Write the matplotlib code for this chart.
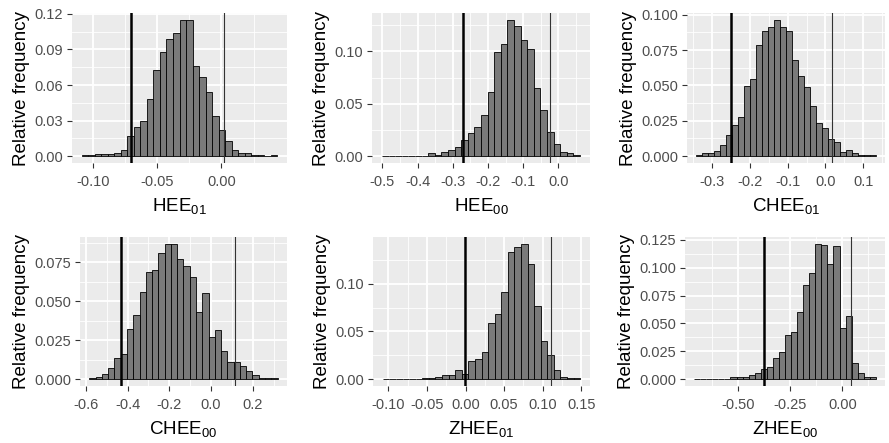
import numpy as np
import matplotlib
matplotlib.use('Agg')
import matplotlib.pyplot as plt
from matplotlib.ticker import FixedLocator, MultipleLocator, FormatStrFormatter

plt.rcParams['font.family'] = 'Liberation Sans'
plt.rcParams['mathtext.fontset'] = 'custom'
plt.rcParams['mathtext.rm'] = 'Liberation Sans'

# relative frequency of each of the 30 bins, bin range and the two reference lines
hee01_freq = [0.001, 0.001, 0.002, 0.002, 0.002, 0.003, 0.005, 0.017, 0.025, 0.030,
              0.048, 0.073, 0.088, 0.099, 0.104, 0.115, 0.115, 0.076, 0.067, 0.054,
              0.034, 0.022, 0.013, 0.005, 0.003, 0.003, 0.001, 0.001, 0.0003, 0.001]
hee01_range = (-0.1087, 0.0434)
hee01_lines = (-0.0702, 0.0023)
hee01_xticks = [-0.10, -0.05, 0.00]

hee00_freq = [0, 0, 0, 0, 0, 0, 0, 0.003, 0.0016, 0.004,
              0.006, 0.009, 0.0155, 0.022, 0.028, 0.039, 0.061, 0.0997, 0.107, 0.130,
              0.124, 0.111, 0.102, 0.065, 0.044, 0.0235, 0.0116, 0.004, 0.003, 0.0013]
hee00_range = (-0.501, 0.0613)
hee00_lines = (-0.272, -0.024)
hee00_xticks = [-0.5, -0.4, -0.3, -0.2, -0.1, 0.0]

chee01_freq = [0.001, 0.002, 0.0024, 0.0036, 0.0076, 0.0153, 0.0217, 0.0277, 0.0496, 0.0544,
               0.0783, 0.0886, 0.091, 0.0964, 0.091, 0.0886, 0.0683, 0.0568, 0.0492, 0.0353,
               0.0234, 0.0198, 0.0122, 0.0098, 0.0033, 0.0045, 0.0026, 0.001, 0.001, 0.001]
chee01_range = (-0.343, 0.134)
chee01_lines = (-0.250, 0.0168)
chee01_xticks = [-0.3, -0.2, -0.1, 0.0, 0.1]

chee00_freq = [0.0009, 0.0017, 0.0035, 0.0069, 0.0138, 0.0164, 0.032, 0.0415, 0.0562, 0.0691,
               0.070, 0.0812, 0.087, 0.087, 0.0769, 0.073, 0.0657, 0.0432, 0.0553, 0.0272,
               0.0313, 0.0182, 0.0112, 0.0112, 0.0082, 0.0052, 0.003, 0.0009, 0.0009, 0.0009]
chee00_range = (-0.5825, 0.319)
chee00_lines = (-0.433, 0.1127)
chee00_xticks = [-0.6, -0.4, -0.2, 0.0, 0.2]

zhee01_freq = [0, 0, 0, 0, 0, 0, 0.0014, 0.0014, 0.002, 0.0042,
               0.0042, 0.0099, 0.005, 0.0187, 0.0211, 0.0282, 0.0592, 0.068, 0.0915, 0.1335,
               0.138, 0.1419, 0.1208, 0.0768, 0.0401, 0.025, 0.0099, 0.0028, 0.001, 0.001]
zhee01_range = (-0.1073, 0.1487)
zhee01_lines = (-0.0013, 0.1112)
zhee01_xticks = [-0.10, -0.05, 0.00, 0.05, 0.10, 0.15]

zhee00_freq = [0.0003, 0.0003, 0.0003, 0.0003, 0.0003, 0.0003, 0.0024, 0.0024, 0.0024, 0.0036,
               0.006, 0.0096, 0.0108, 0.0193, 0.024, 0.0398, 0.0422, 0.0602, 0.0846, 0.0949,
               0.1214, 0.1202, 0.1033, 0.119, 0.0458, 0.0566, 0.0145, 0.006, 0.0024, 0.0024]
zhee00_range = (-0.710, 0.161)
zhee00_lines = (-0.374, 0.041)
zhee00_xticks = [-0.50, -0.25, 0.00]

labels = ['HEE$_{\\mathregular{01}}$', 'HEE$_{\\mathregular{00}}$', 'CHEE$_{\\mathregular{01}}$',
          'CHEE$_{\\mathregular{00}}$', 'ZHEE$_{\\mathregular{01}}$', 'ZHEE$_{\\mathregular{00}}$']

panels = [
    # freq, range, lines, x ticks, x fmt, y step, y fmt, box (left, top, right, bottom px)
    (hee01_freq, hee01_range, hee01_lines, hee01_xticks, '%.2f', 0.03, '%.2f', (72, 13, 287, 163)),
    (hee00_freq, hee00_range, hee00_lines, hee00_xticks, '%.1f', 0.05, '%.2f', (372, 13, 590, 163)),
    (chee01_freq, chee01_range, chee01_lines, chee01_xticks, '%.1f', 0.025, '%.3f', (687, 13, 885, 163)),
    (chee00_freq, chee00_range, chee00_lines, chee00_xticks, '%.1f', 0.025, '%.3f', (80, 237, 287, 386)),
    (zhee01_freq, zhee01_range, zhee01_lines, zhee01_xticks, '%.2f', 0.05, '%.2f', (373, 237, 590, 386)),
    (zhee00_freq, zhee00_range, zhee00_lines, zhee00_xticks, '%.2f', 0.025, '%.3f', (685, 237, 885, 386)),
]

W, H = 889, 443
fig = plt.figure(figsize=(W / 100, H / 100), dpi=100)

for (freq, rng, lines, xt, xf, ys, yf, box), lab in zip(panels, labels):
    l, t, r, b = box
    ax = fig.add_axes([l / W, 1 - b / H, (r - l) / W, (b - t) / H])
    ax.set_facecolor('#EBEBEB')
    for s in ax.spines.values():
        s.set_visible(False)

    edges = np.linspace(rng[0], rng[1], len(freq) + 1)
    ax.bar(edges[:-1], freq, width=np.diff(edges), align='edge',
           color='#7A7A7A', edgecolor='black', linewidth=0.6, zorder=3)
    ax.axvline(lines[0], color='black', lw=1.8, zorder=4)
    ax.axvline(lines[1], color='#333333', lw=0.8, zorder=4)

    span = rng[1] - rng[0]
    ax.set_xlim(rng[0] - 0.05 * span, rng[1] + 0.05 * span)
    top = max(freq)
    ax.set_ylim(-0.05 * top, 1.05 * top)

    xstep = xt[1] - xt[0]
    ax.xaxis.set_major_locator(FixedLocator(xt))
    ax.xaxis.set_minor_locator(FixedLocator(
        [xt[0] - xstep / 2] + [v + xstep / 2 for v in xt]))
    ax.yaxis.set_major_locator(MultipleLocator(ys))
    ax.yaxis.set_minor_locator(MultipleLocator(ys / 2))
    ax.xaxis.set_major_formatter(FormatStrFormatter(xf))
    ax.yaxis.set_major_formatter(FormatStrFormatter(yf))

    ax.grid(which='major', color='white', lw=1.3, zorder=0)
    ax.grid(which='minor', color='white', lw=0.6, zorder=0)
    ax.set_axisbelow(True)
    ax.tick_params(which='major', length=3.5, width=0.8, color='#333333',
                   labelsize=10.5, labelcolor='#4D4D4D', pad=3)
    ax.tick_params(axis='x', which='major', pad=5)
    ax.tick_params(which='minor', length=0)

    ax.set_xlabel(lab, fontsize=13.5, labelpad=6)
    ax.set_ylabel('Relative frequency', fontsize=13.5, labelpad=3)

fig.savefig('out.png', dpi=100)
